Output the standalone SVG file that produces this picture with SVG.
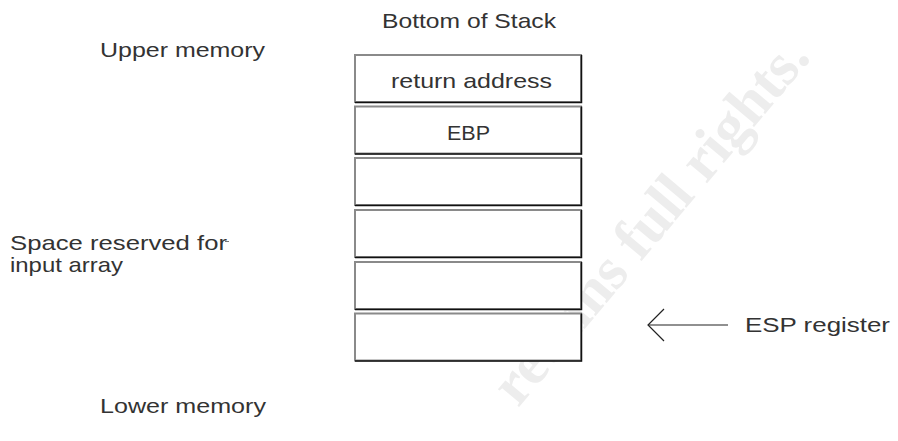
<svg xmlns="http://www.w3.org/2000/svg" width="898" height="441" viewBox="0 0 898 441">
  <style>
    .lbl { font-family: "Liberation Sans", Arial, sans-serif; font-size: 21px; fill: #333333; }
    .box { fill: #ffffff; stroke: #8a8a8a; stroke-width: 2; }
    .shade { stroke: #111111; stroke-width: 1.5; fill: none; }
    .wm { font-family: "Liberation Serif", serif; font-weight: bold; font-size: 60px; fill: #ededed; }
  </style>
  <rect width="898" height="441" fill="#ffffff"/>
  <text class="wm" transform="translate(812,58) rotate(-50)" text-anchor="end">retains full rights.</text>

  <g id="title">
    <text class="lbl" x="382" y="28" textLength="174" lengthAdjust="spacingAndGlyphs">Bottom of Stack</text>
  </g>
  <g id="upper-memory">
    <text class="lbl" x="100" y="57" textLength="165" lengthAdjust="spacingAndGlyphs">Upper memory</text>
  </g>
  <g id="space-reserved">
    <text class="lbl" x="10" y="250" textLength="217" lengthAdjust="spacingAndGlyphs">Space reserved for</text>
    <text class="lbl" x="10" y="272" textLength="113" lengthAdjust="spacingAndGlyphs">input array</text>
    <line x1="225" y1="241.5" x2="229" y2="241.5" stroke="#777" stroke-width="1"/>
  </g>
  <g id="lower-memory">
    <text class="lbl" x="100" y="413" textLength="166" lengthAdjust="spacingAndGlyphs">Lower memory</text>
  </g>

  <g id="slot-return-address">
    <rect class="box" x="355" y="55" width="226" height="47"/>
    <path class="shade" d="M355,102.5 H581.5 V55"/>
    <text class="lbl" x="391" y="88" textLength="161" lengthAdjust="spacingAndGlyphs">return address</text>
  </g>
  <g id="slot-ebp">
    <rect class="box" x="355" y="106.5" width="226" height="47"/>
    <path class="shade" d="M355,154 H581.5 V106.5"/>
    <text class="lbl" x="447" y="140" textLength="43" lengthAdjust="spacingAndGlyphs">EBP</text>
  </g>
  <g id="slot-3">
    <rect class="box" x="355" y="158" width="226" height="47"/>
    <path class="shade" d="M355,205.5 H581.5 V158"/>
  </g>
  <g id="slot-4">
    <rect class="box" x="355" y="210" width="226" height="47"/>
    <path class="shade" d="M355,257.5 H581.5 V210"/>
  </g>
  <g id="slot-5">
    <rect class="box" x="355" y="262" width="226" height="47"/>
    <path class="shade" d="M355,309.5 H581.5 V262"/>
  </g>
  <g id="slot-6">
    <rect class="box" x="355" y="313.5" width="226" height="47"/>
    <path class="shade" d="M355,361 H581.5 V313.5"/>
  </g>

  <g id="esp-label">
    <text class="lbl" x="745" y="332" textLength="145" lengthAdjust="spacingAndGlyphs">ESP register</text>
  </g>

  <g id="connectors" fill="none" stroke="#222222" stroke-width="1.2">
    <line x1="648" y1="325" x2="728" y2="325"/>
    <polyline points="664,309 648,325 664,341"/>
  </g>
</svg>
